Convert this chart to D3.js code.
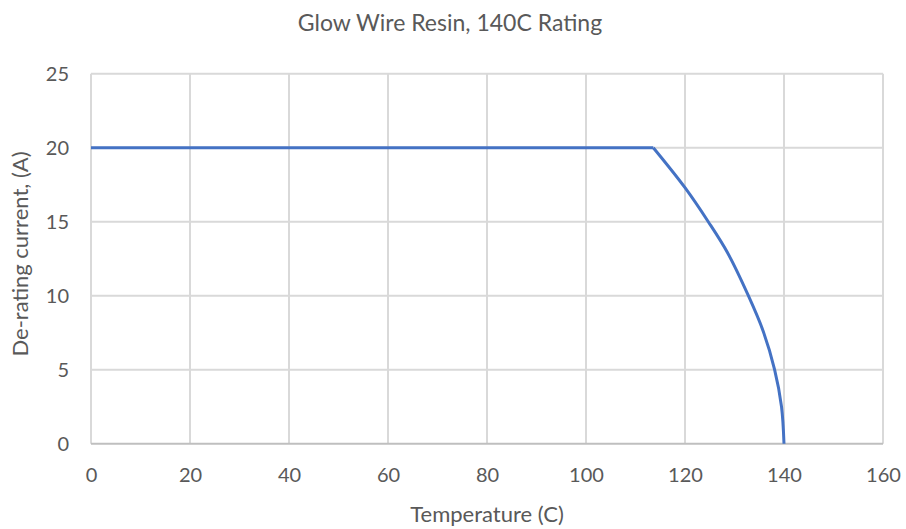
<!DOCTYPE html>
<html>
<head>
<meta charset="utf-8">
<script src="https://cdn.jsdelivr.net/npm/d3@7"></script>
<style>
  body { margin: 0; background: #fff; }
  text { font-family: Lato, "Open Sans", sans-serif; fill: #595959; }
</style>
</head>
<body>
<div id="chart-area"></div>
<script>
const MARGIN = { LEFT: 91, RIGHT: 23, TOP: 73.7, BOTTOM: 85.3 }
const WIDTH = 906 - MARGIN.LEFT - MARGIN.RIGHT
const HEIGHT = 529 - MARGIN.TOP - MARGIN.BOTTOM

const flatTemps    = [0, 113.6]
const flatCurrents = [20, 20]
const dropTemps    = [113.6, 120, 124.7, 128.6, 132.8, 135.8, 138.1, 139.5, 140]
const dropCurrents = [20, 17.3, 15, 12.9, 10, 7.6, 5, 2.5, 0]
const xTicks = [0, 20, 40, 60, 80, 100, 120, 140, 160]
const yTicks = [0, 5, 10, 15, 20, 25]

const svg = d3.select("#chart-area").append("svg")
  .attr("width", 906)
  .attr("height", 529)

const g = svg.append("g")
  .attr("transform", `translate(${MARGIN.LEFT}, ${MARGIN.TOP})`)

const x = d3.scaleLinear().domain([0, 160]).range([0, WIDTH])
const y = d3.scaleLinear().domain([0, 25]).range([HEIGHT, 0])

// gridlines
g.append("g")
  .selectAll("line")
  .data(xTicks)
  .enter().append("line")
    .attr("x1", d => x(d)).attr("x2", d => x(d))
    .attr("y1", 0).attr("y2", HEIGHT)
    .attr("stroke", "#d9d9d9").attr("stroke-width", 2)

g.append("g")
  .selectAll("line")
  .data(yTicks)
  .enter().append("line")
    .attr("x1", 0).attr("x2", WIDTH)
    .attr("y1", d => y(d)).attr("y2", d => y(d))
    .attr("stroke", d => d === 0 ? "#bfbfbf" : "#d9d9d9").attr("stroke-width", 2)

// axes (labels only)
const xAxisCall = d3.axisBottom(x).tickValues(xTicks).tickSize(0).tickPadding(24)
const xAxis = g.append("g")
  .attr("transform", `translate(0, ${HEIGHT})`)
  .call(xAxisCall)
xAxis.select(".domain").remove()
xAxis.selectAll("text").style("font-size", "20px").attr("fill", "#595959")

const yAxisCall = d3.axisLeft(y).tickValues(yTicks).tickSize(0).tickPadding(22)
const yAxis = g.append("g").call(yAxisCall)
yAxis.select(".domain").remove()
yAxis.selectAll("text").style("font-size", "20px").attr("fill", "#595959")

// the curve: flat part, then the drop
const line = d3.line().x(d => x(d[0])).y(d => y(d[1]))
g.append("path")
  .datum(flatTemps.map((t, i) => [t, flatCurrents[i]]))
  .attr("fill", "none")
  .attr("stroke", "#4472c4")
  .attr("stroke-width", 3)
  .attr("d", line)

g.append("path")
  .datum(dropTemps.map((t, i) => [t, dropCurrents[i]]))
  .attr("fill", "none")
  .attr("stroke", "#4472c4")
  .attr("stroke-width", 3)
  .attr("stroke-linejoin", "round")
  .attr("d", line.curve(d3.curveCatmullRom.alpha(0.5)))

// Title
svg.append("text")
  .attr("x", 450)
  .attr("y", 31)
  .attr("text-anchor", "middle")
  .style("font-size", "23px")
  .text("Glow Wire Resin, 140C Rating")

// X label
svg.append("text")
  .attr("x", MARGIN.LEFT + WIDTH / 2)
  .attr("y", 522)
  .attr("text-anchor", "middle")
  .style("font-size", "22px")
  .text("Temperature (C)")

// Y label
svg.append("text")
  .attr("x", -254)
  .attr("y", 28)
  .attr("text-anchor", "middle")
  .attr("transform", "rotate(-90)")
  .style("font-size", "22px")
  .text("De-rating current, (A)")
</script>
</body>
</html>
